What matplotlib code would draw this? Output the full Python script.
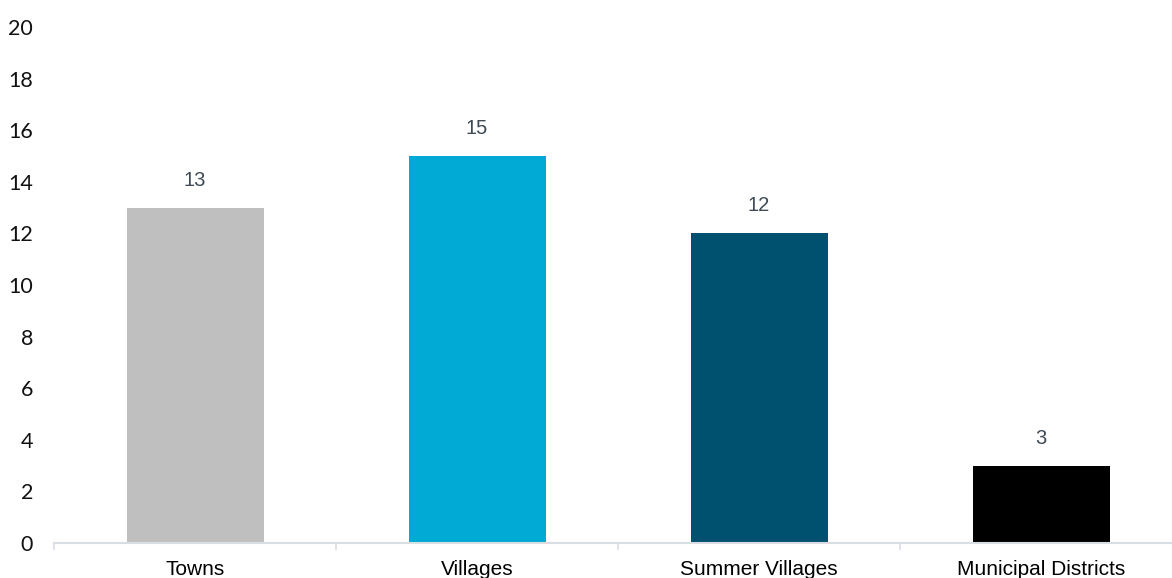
import numpy as np
import matplotlib.pyplot as plt

categories = ["Towns", "Villages", "Summer Villages", "Municipal Districts"]
counts = [13, 15, 12, 3]
bar_colors = ["#BFBFBF", "#00AAD4", "#00506F", "#000000"]
y_ticks = list(range(0, 21, 2))

fig = plt.figure(figsize=(11.72, 5.78), dpi=100)
ax = fig.add_axes([0.0461, 0.0606, 0.9625, 0.8927])

x = np.arange(len(categories))
bars = ax.bar(x, counts, width=0.486, color=bar_colors)

for rect, val in zip(bars, counts):
    ax.annotate(str(val), (rect.get_x() + rect.get_width() / 2, rect.get_height()),
                xytext=(0, 13), textcoords="offset points", ha="center", va="bottom",
                fontsize=14.5, color="#3E4A56", family="Liberation Sans")

ax.set_xlim(-0.5, len(categories) - 0.5)
ax.set_ylim(0, 20)
ax.set_yticks(y_ticks)
ax.set_yticklabels([str(t) for t in y_ticks], family="Lato", fontsize=15.5)
ax.tick_params(axis="y", length=0, pad=15, labelcolor="#111111")

ax.set_xticks(x)
ax.set_xticklabels(categories, family="Liberation Sans", fontsize=15)
ax.set_xticks(np.arange(-0.5, len(categories)), minor=True)
ax.tick_params(axis="x", which="major", length=0, pad=12)
ax.tick_params(axis="x", which="minor", length=5, color="#D9DEE3", width=1.2)

for side in ["top", "right", "left"]:
    ax.spines[side].set_visible(False)
ax.spines["bottom"].set_color("#D9DEE3")
ax.spines["bottom"].set_linewidth(1.5)

fig.savefig("out.png", dpi=100)
